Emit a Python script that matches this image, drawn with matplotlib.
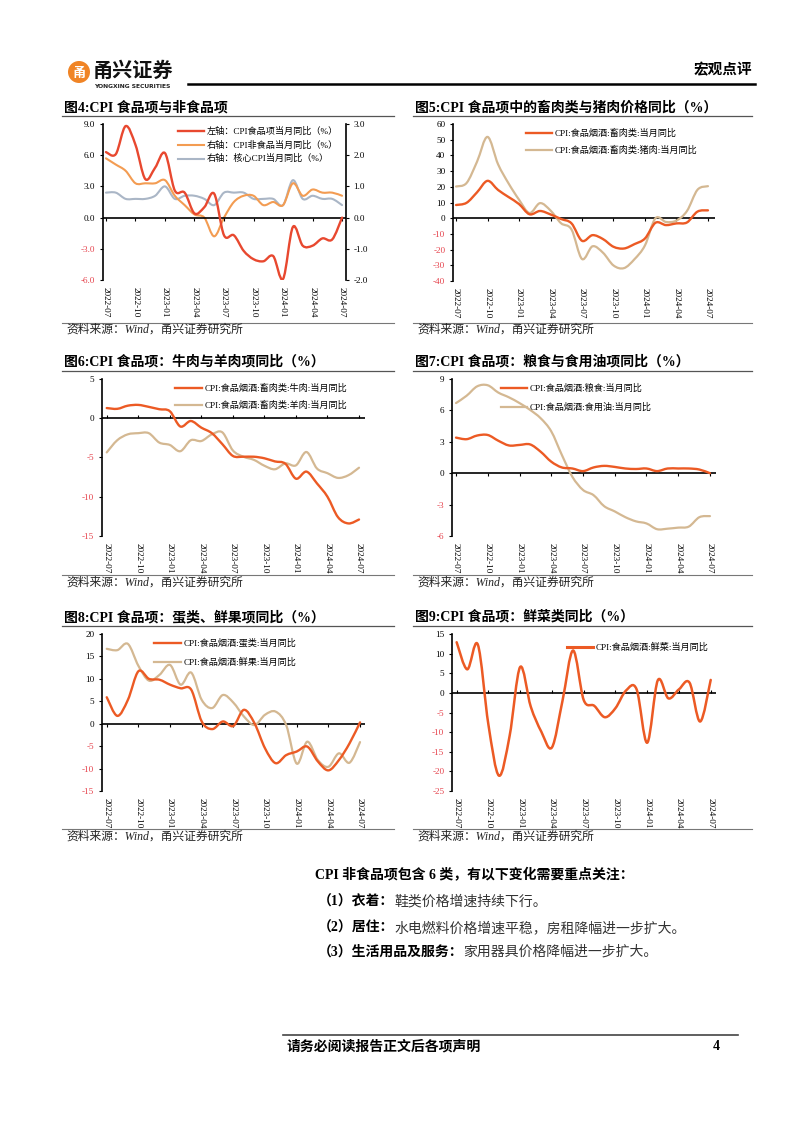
import numpy as np
import matplotlib
matplotlib.use('Agg')
import matplotlib.pyplot as plt
from matplotlib.path import Path
from matplotlib.patches import PathPatch, Ellipse
from matplotlib.lines import Line2D

# ---------------- data ----------------
months = ['2022-07', '2022-08', '2022-09', '2022-10', '2022-11', '2022-12',
          '2023-01', '2023-02', '2023-03', '2023-04', '2023-05', '2023-06',
          '2023-07', '2023-08', '2023-09', '2023-10', '2023-11', '2023-12',
          '2024-01', '2024-02', '2024-03', '2024-04', '2024-05', '2024-06', '2024-07']
tick_labels = months[::3]

food_cpi = [6.3, 6.1, 8.8, 7.0, 3.7, 4.8, 6.2, 2.6, 2.4, 0.4, 1.0, 2.3, -1.7, -1.7,
            -3.2, -4.0, -4.2, -3.7, -5.9, -0.9, -2.7, -2.7, -2.0, -2.1, 0.0]
nonfood_cpi = [1.9, 1.7, 1.5, 1.1, 1.1, 1.1, 1.2, 0.7, 0.4, 0.1, 0.0, -0.6, 0.0, 0.5,
               0.7, 0.7, 0.4, 0.5, 0.4, 1.1, 0.7, 0.9, 0.8, 0.8, 0.7]
core_cpi = [0.8, 0.8, 0.6, 0.6, 0.6, 0.7, 1.0, 0.6, 0.7, 0.7, 0.6, 0.4, 0.8, 0.8,
            0.8, 0.6, 0.6, 0.6, 0.4, 1.2, 0.6, 0.7, 0.6, 0.6, 0.4]

livestock = [8.4, 9.8, 16.5, 23.8, 18.0, 13.5, 9.0, 2.5, 4.6, 2.4, -0.5, -3.3, -14.4,
             -10.8, -13.3, -18.2, -19.3, -16.5, -12.9, -2.9, -4.4, -3.3, -2.7, 4.2, 5.0]
pork = [20.2, 22.4, 36.0, 51.8, 34.4, 22.2, 11.8, 3.3, 9.6, 4.9, -3.2, -7.2, -26.0,
        -17.9, -22.0, -30.1, -31.8, -26.1, -17.3, 0.0, -2.4, -1.5, 4.6, 18.1, 20.4]

beef = [1.3, 1.2, 1.6, 1.7, 1.45, 1.15, 0.9, -1.05, -0.35, -1.2, -1.9, -3.3, -4.8,
        -4.9, -4.9, -5.1, -5.5, -5.8, -7.7, -6.8, -8.3, -10.0, -12.6, -13.4, -12.9]
mutton = [-4.35, -2.8, -2.05, -1.9, -1.9, -3.1, -3.4, -4.2, -2.8, -2.9, -2.05, -1.8,
          -4.1, -4.9, -5.3, -6.05, -6.5, -5.75, -6.0, -4.3, -6.4, -7.0, -7.6, -7.25, -6.3]

grain = [3.4, 3.25, 3.6, 3.65, 3.1, 2.65, 2.7, 2.75, 2.05, 1.1, 0.55, 0.45, 0.2, 0.55,
         0.7, 0.6, 0.45, 0.4, 0.45, 0.2, 0.45, 0.45, 0.45, 0.35, 0.0]
edible_oil = [6.7, 7.4, 8.3, 8.4, 7.7, 7.25, 6.7, 6.05, 5.25, 4.0, 1.75, -0.35, -1.6,
              -2.1, -3.15, -3.65, -4.2, -4.6, -4.8, -5.35, -5.3, -5.2, -5.1, -4.2, -4.1]

eggs = [5.9, 1.75, 5.3, 11.7, 10.0, 9.8, 8.7, 7.9, 7.6, 0.5, -1.2, 0.5, -0.5, 3.1,
        0.1, -5.5, -8.8, -7.0, -6.2, -5.1, -8.4, -10.4, -8.1, -4.4, 0.3]
fresh_fruit = [16.7, 16.4, 17.8, 12.9, 9.6, 10.9, 13.1, 8.7, 11.4, 5.3, 3.5, 6.4, 4.7,
               1.6, -0.3, 2.0, 2.7, -0.3, -8.9, -4.0, -8.1, -9.6, -6.6, -8.7, -4.1]

fresh_veg = [12.9, 6.0, 12.3, -8.1, -21.1, -11.0, 6.6, -3.5, -9.9, -13.9, -2.0, 10.8,
             -1.8, -3.3, -6.2, -3.9, 0.6, 0.9, -12.7, 3.2, -1.4, 0.9, 2.6, -7.3, 3.3]

# ---------------- style ----------------
FONT = ['Liberation Serif', 'Noto Sans CJK SC']
plt.rcParams['font.family'] = FONT
plt.rcParams['axes.unicode_minus'] = False

RED = '#E8482F'
ORANGE = '#EC5A24'
LORANGE = '#F39C52'
GRAYBLUE = '#AAB6C6'
TAN = '#D4B892'
NEG = '#E5404A'

W, H = 802, 1133
fig = plt.figure(figsize=(W / 100, H / 100), dpi=100)


def fx(x):
    return x / W


def fy(y):
    return 1 - y / H


def add_ax(l, t, r, b):
    return fig.add_axes([fx(l), fy(b), (r - l) / W, (b - t) / H])


def smooth_path(x, y):
    x = np.asarray(x, float)
    y = np.asarray(y, float)
    n = len(x)
    verts = [(x[0], y[0])]
    codes = [Path.MOVETO]
    for i in range(n - 1):
        i0, i3 = max(i - 1, 0), min(i + 2, n - 1)
        c1 = (x[i] + (x[i + 1] - x[i0]) / 6, y[i] + (y[i + 1] - y[i0]) / 6)
        c2 = (x[i + 1] - (x[i3] - x[i]) / 6, y[i + 1] - (y[i3] - y[i]) / 6)
        verts += [c1, c2, (x[i + 1], y[i + 1])]
        codes += [Path.CURVE4] * 3
    return Path(verts, codes)


def draw_series(ax, values, color, lw):
    xs = np.arange(len(values))
    ax.add_patch(PathPatch(smooth_path(xs, values), fill=False, edgecolor=color,
                           lw=lw, capstyle='round', joinstyle='round', zorder=3))


def setup(ax, ylim, yticks, xlim, fmt):
    ax.set_xlim(*xlim)
    ax.set_ylim(*ylim)
    ax.set_yticks(yticks)
    ax.set_yticklabels([fmt.format(v) for v in yticks])
    for lab, v in zip(ax.get_yticklabels(), yticks):
        lab.set_color(NEG if v < 0 else 'black')
    ax.set_xticks(range(0, 25, 3))
    ax.set_xticklabels(tick_labels, rotation=270, fontsize=6.6, va='top', ha='center')
    ax.tick_params(axis='x', length=0, pad=5)
    ax.tick_params(axis='y', length=2.5, width=0.8, direction='out', labelsize=6.6, pad=3)
    for s in ['top', 'right', 'bottom']:
        ax.spines[s].set_visible(False)
    ax.spines['left'].set_linewidth(1.2)
    ax.patch.set_alpha(0)
    ax.axhline(0, color='black', lw=1.2, zorder=2)
    zero = (0 - ylim[0]) / (ylim[1] - ylim[0])
    sec = ax.secondary_xaxis(zero)
    sec.set_xticks(range(0, 25, 3))
    sec.tick_params(length=2.5, width=0.8, direction='out', labelbottom=False, labeltop=False)
    for s in sec.spines.values():
        s.set_visible(False)


def legend(items, x1, x2, ys, fs=6.6):
    for (label, color, lw), y in zip(items, ys):
        fig.add_artist(Line2D([fx(x1), fx(x2)], [fy(y), fy(y)], color=color, lw=lw,
                              transform=fig.transFigure))
        fig.text(fx(x2 + 3), fy(y), label, fontsize=fs, va='center', ha='left')


def title(x, y, text, x_end, y_line):
    fig.text(fx(x), fy(y), text, fontsize=10, fontweight='bold', va='center', ha='left')
    fig.add_artist(Line2D([fx(x - 2), fx(x_end)], [fy(y_line), fy(y_line)], color='#555555',
                          lw=0.9, transform=fig.transFigure))


def source(x, y_line, y_text, x_end):
    fig.add_artist(Line2D([fx(x - 2), fx(x_end)], [fy(y_line), fy(y_line)], color='#777777',
                          lw=0.8, transform=fig.transFigure))
    fig.text(fx(x + 2), fy(y_text), '资料来源：Wind，甬兴证券研究所', fontsize=8.5,
             style='italic', va='center', ha='left', color='#222222')


# ---------------- header ----------------
fig.add_artist(Ellipse((fx(79), fy(72)), 22 / W, 22 / H, transform=fig.transFigure,
                       facecolor='#F08425', edgecolor='none'))
fig.text(fx(79), fy(72.5), '甬', fontsize=9.5, fontweight='bold', color='white',
         ha='center', va='center', family='Noto Sans CJK SC')
fig.text(fx(93), fy(70), '甬兴证券', fontsize=14.5, fontweight='bold', color='#111111',
         ha='left', va='center', family='Noto Sans CJK SC')
fig.text(fx(94), fy(87), 'YONGXING SECURITIES', fontsize=4.3, fontweight='bold',
         color='#222222', ha='left', va='center', family='DejaVu Sans')
fig.add_artist(Line2D([fx(188), fx(755)], [fy(84), fy(84)], color='black', lw=1.8,
                      transform=fig.transFigure))
fig.text(fx(752), fy(70), '宏观点评', fontsize=10.5, fontweight='bold', ha='right', va='center')

# ---------------- chart 4 ----------------
title(64, 108, '图4:CPI 食品项与非食品项', 394, 116)
ax4 = add_ax(103, 124, 346, 280)
setup(ax4, (-6, 9), [9, 6, 3, 0, -3, -6], (-0.3, 24.4), '{:.1f}')
ax4b = ax4.twinx()
ax4b.set_ylim(-2, 3)
ax4b.set_yticks([3, 2, 1, 0, -1, -2])
ax4b.set_yticklabels(['{:.1f}'.format(v) for v in [3, 2, 1, 0, -1, -2]])
ax4b.tick_params(axis='y', length=2.5, width=0.8, direction='out', labelsize=6.6, pad=3)
for s in ['top', 'left', 'bottom']:
    ax4b.spines[s].set_visible(False)
ax4b.spines['right'].set_linewidth(1.2)
ax4b.patch.set_alpha(0)
draw_series(ax4b, core_cpi, GRAYBLUE, 1.5)
draw_series(ax4b, nonfood_cpi, LORANGE, 1.5)
draw_series(ax4, food_cpi, RED, 1.7)
ax4.set_zorder(ax4b.get_zorder() + 1)
legend([('左轴：CPI食品项当月同比（%）', RED, 1.7),
        ('右轴：CPI非食品当月同比（%）', LORANGE, 1.5),
        ('右轴：核心CPI当月同比（%）', GRAYBLUE, 1.5)],
       178, 204, [131, 145, 158.5])
source(64, 323, 330, 394)

# ---------------- chart 5 ----------------
title(415, 108, '图5:CPI 食品项中的畜肉类与猪肉价格同比（%）', 752, 116)
ax5 = add_ax(453, 124, 715, 281)
setup(ax5, (-40, 60), list(range(60, -41, -10)), (-0.29, 24.67), '{:.0f}')
draw_series(ax5, pork, TAN, 1.6)
draw_series(ax5, livestock, ORANGE, 1.7)
legend([('CPI:食品烟酒:畜肉类:当月同比', ORANGE, 1.7),
        ('CPI:食品烟酒:畜肉类:猪肉:当月同比', TAN, 1.6)],
       526, 552, [133, 150])
source(415, 323, 330, 752)

# ---------------- chart 6 ----------------
title(64, 362, '图6:CPI 食品项：牛肉与羊肉项同比（%）', 394, 371)
ax6 = add_ax(102, 379, 365, 536)
setup(ax6, (-15, 5), [5, 0, -5, -10, -15], (-0.45, 24.57), '{:.0f}')
draw_series(ax6, mutton, TAN, 1.6)
draw_series(ax6, beef, ORANGE, 1.7)
legend([('CPI:食品烟酒:畜肉类:牛肉:当月同比', ORANGE, 1.7),
        ('CPI:食品烟酒:畜肉类:羊肉:当月同比', TAN, 1.6)],
       175, 202, [388, 405])
source(64, 575, 583, 394)

# ---------------- chart 7 ----------------
title(415, 362, '图7:CPI 食品项：粮食与食用油项同比（%）', 752, 371)
ax7 = add_ax(452, 379, 716, 536)
setup(ax7, (-6, 9), [9, 6, 3, 0, -3, -6], (-0.38, 24.57), '{:.0f}')
draw_series(ax7, edible_oil, TAN, 1.6)
draw_series(ax7, grain, ORANGE, 1.7)
legend([('CPI:食品烟酒:粮食:当月同比', ORANGE, 1.7),
        ('CPI:食品烟酒:食用油:当月同比', TAN, 1.6)],
       501, 527, [388, 407])
source(415, 575, 583, 752)

# ---------------- chart 8 ----------------
title(64, 617, '图8:CPI 食品项：蛋类、鲜果项同比（%）', 394, 626)
ax8 = add_ax(102, 634, 365, 791)
setup(ax8, (-15, 20), list(range(20, -16, -5)), (-0.45, 24.47), '{:.0f}')
draw_series(ax8, fresh_fruit, TAN, 1.6)
draw_series(ax8, eggs, ORANGE, 1.7)
legend([('CPI:食品烟酒:蛋类:当月同比', ORANGE, 1.7),
        ('CPI:食品烟酒:鲜果:当月同比', TAN, 1.6)],
       154, 181, [643, 662])
source(64, 829, 837, 394)

# ---------------- chart 9 ----------------
title(415, 617, '图9:CPI 食品项：鲜菜类同比（%）', 752, 626)
ax9 = add_ax(452, 634, 716, 791)
setup(ax9, (-25, 15), list(range(15, -26, -5)), (-0.44, 24.5), '{:.0f}')
draw_series(ax9, fresh_veg, ORANGE, 1.8)
legend([('CPI:食品烟酒:鲜菜:当月同比', ORANGE, 2.2)], 567, 593, [647])
source(415, 829, 837, 752)

# ---------------- body text ----------------
fig.text(fx(315), fy(875), 'CPI 非食品项包含 6 类，有以下变化需要重点关注：', fontsize=10,
         fontweight='bold', va='center', ha='left')
body = [('（1）衣着：', '鞋类价格增速持续下行。', 902),
        ('（2）居住：', '水电燃料价格增速平稳，房租降幅进一步扩大。', 928),
        ('（3）生活用品及服务：', '家用器具价格降幅进一步扩大。', 952)]
renderer = fig.canvas.get_renderer()
for bold, rest, y in body:
    t = fig.text(fx(318), fy(y), bold, fontsize=10, fontweight='bold', va='center', ha='left')
    bb = t.get_window_extent(renderer=renderer)
    fig.text(bb.x1 / W, fy(y), rest, fontsize=10, va='center', ha='left', color='#333333')

# ---------------- footer ----------------
fig.add_artist(Line2D([fx(283), fx(738)], [fy(1035), fy(1035)], color='#444444', lw=1.2,
                      transform=fig.transFigure))
fig.text(fx(287), fy(1047), '请务必阅读报告正文后各项声明', fontsize=10, fontweight='bold',
         va='center', ha='left')
fig.text(fx(716), fy(1047), '4', fontsize=10, fontweight='bold', va='center', ha='center')

fig.savefig('out.png', dpi=100)
